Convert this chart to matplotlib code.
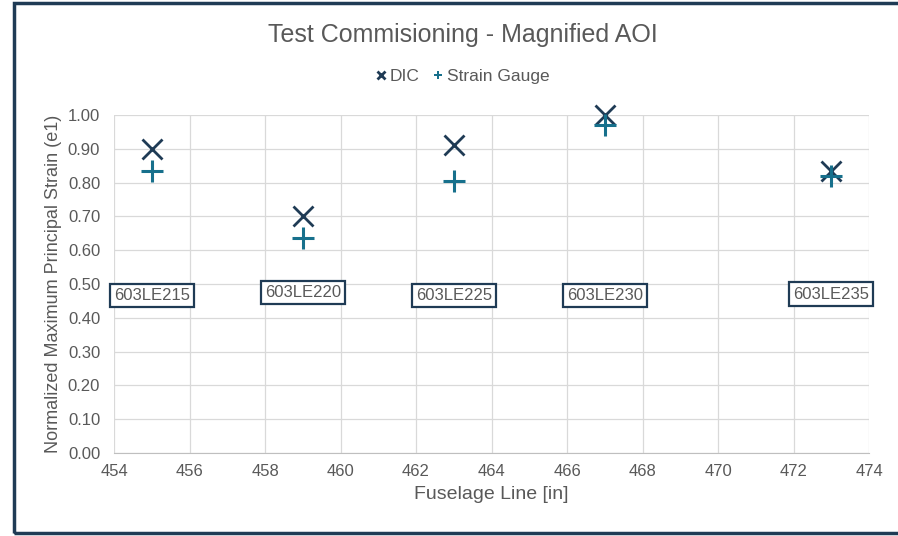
import matplotlib.pyplot as plt
from matplotlib.lines import Line2D
from matplotlib.patches import Rectangle

plt.rcParams['font.family'] = ['Liberation Sans', 'DejaVu Sans']

# measurement locations along the fuselage
fuselage_line = [455, 459, 463, 467, 473]
dic_strain = [0.90, 0.70, 0.91, 1.00, 0.835]
gauge_strain = [0.835, 0.635, 0.805, 0.97, 0.82]

# gauge name tags
gauge_names = ['603LE215', '603LE220', '603LE225', '603LE230', '603LE235']
tag_y = [0.465, 0.475, 0.465, 0.465, 0.47]

navy = '#1f3b55'
teal = '#17708c'
text_gray = '#595959'

fig = plt.figure(figsize=(8.98, 5.36), dpi=100)
ax = fig.add_axes([0.127, 0.155, 0.8408, 0.6306])

ax.plot(fuselage_line, dic_strain, linestyle='none', marker='x', markersize=15,
        markeredgewidth=2.0, color=navy, label='DIC', clip_on=False)
ax.plot(fuselage_line, gauge_strain, linestyle='none', marker='+', markersize=16,
        markeredgewidth=2.2, color=teal, label='Strain Gauge', clip_on=False)

for name, x, y in zip(gauge_names, fuselage_line, tag_y):
    ax.text(x, y, name, ha='center', va='center', fontsize=12, color=text_gray,
            bbox=dict(boxstyle='square,pad=0.25', facecolor='white', edgecolor=navy, linewidth=1.6))

ax.set_xlim(454, 474)
ax.set_ylim(0, 1.0)
ax.set_xticks(range(454, 475, 2))
ax.set_yticks([i / 10 for i in range(11)])
ax.set_yticklabels([f'{i / 10:.2f}' for i in range(11)])
ax.grid(True, color='#d9d9d9', linewidth=0.9)
ax.set_axisbelow(True)
for side in ['top', 'right', 'left']:
    ax.spines[side].set_visible(False)
ax.spines['bottom'].set_color('#bfbfbf')
ax.tick_params(axis='x', pad=8)
ax.tick_params(axis='y', pad=10)
ax.tick_params(length=0, labelsize=12, colors=text_gray)

ax.set_xlabel('Fuselage Line [in]', fontsize=14, color=text_gray, labelpad=5)
ax.set_ylabel('Normalized Maximum Principal Strain (e1)', fontsize=13, color=text_gray, labelpad=4)

fig.text(0.515, 0.935, 'Test Commisioning - Magnified AOI', ha='center', va='center',
         fontsize=18, color=text_gray)

handles = [Line2D([], [], linestyle='none', marker='x', markersize=6, markeredgewidth=2, color=navy),
           Line2D([], [], linestyle='none', marker='P', markersize=6, color=teal, markeredgewidth=0)]
fig.legend(handles, ['DIC', 'Strain Gauge'], loc='center', bbox_to_anchor=(0.515, 0.858), ncol=2,
           frameon=False, fontsize=12.5, handlelength=0.6, handletextpad=0.2, columnspacing=0.8,
           labelcolor=text_gray)

# dark frame around the chart area
fig.patches.append(Rectangle((14 / 898, 3 / 536), 0.99, 530 / 536, transform=fig.transFigure,
                             fill=False, edgecolor=navy, linewidth=2.5))

fig.savefig('out.png', dpi=100)
